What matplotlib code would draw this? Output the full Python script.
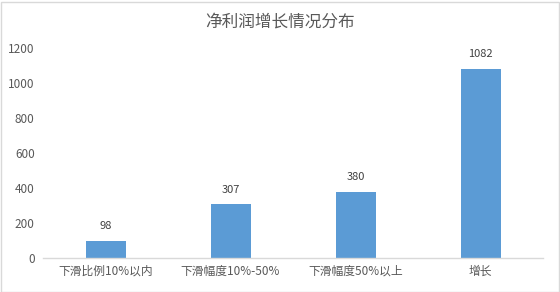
import matplotlib
matplotlib.use('Agg')
import matplotlib.pyplot as plt
from matplotlib.patches import Rectangle

plt.rcParams['font.family'] = ['Noto Sans CJK SC', 'DejaVu Sans']

# Data
categories = ['下滑比例10%以内', '下滑幅度10%-50%', '下滑幅度50%以上', '增长']
counts = [98, 307, 380, 1082]
y_ticks = [0, 200, 400, 600, 800, 1000, 1200]

fig = plt.figure(figsize=(5.6, 2.92), dpi=100)
ax = fig.add_axes([43/560, 34/292, 500/560, 209.6/292])

x = range(len(categories))
bars = ax.bar(x, counts, width=0.32, color='#5b9bd5', zorder=2)
for rect, val in zip(bars, counts):
    ax.annotate(str(val), (rect.get_x() + rect.get_width()/2, rect.get_height()),
                xytext=(0, 7), textcoords='offset points', ha='center', va='bottom',
                fontsize=8, color='#404040')

ax.set_xlim(-0.5, len(categories) - 0.5)
ax.set_ylim(0, 1200)
ax.set_yticks(y_ticks)
ax.set_xticks(list(x))
ax.set_xticklabels(categories)
ax.tick_params(axis='both', length=0, labelsize=8.5, colors='#595959')
ax.tick_params(axis='x', pad=5)
ax.tick_params(axis='y', pad=6)
for side in ['top', 'right', 'left']:
    ax.spines[side].set_visible(False)
ax.spines['bottom'].set_color('#d9d9d9')
ax.spines['bottom'].set_linewidth(1)

fig.text(0.5, 1 - 22/292, '净利润增长情况分布', ha='center', va='center',
         fontsize=12, color='#595959')

# light border around the whole chart
fig.patches.append(Rectangle((0.5/560, 0.5/292), 1 - 2/560, 1 - 2/292,
                             transform=fig.transFigure, fill=False,
                             edgecolor='#d9d9d9', linewidth=1))

fig.savefig('out.png', dpi=100)
